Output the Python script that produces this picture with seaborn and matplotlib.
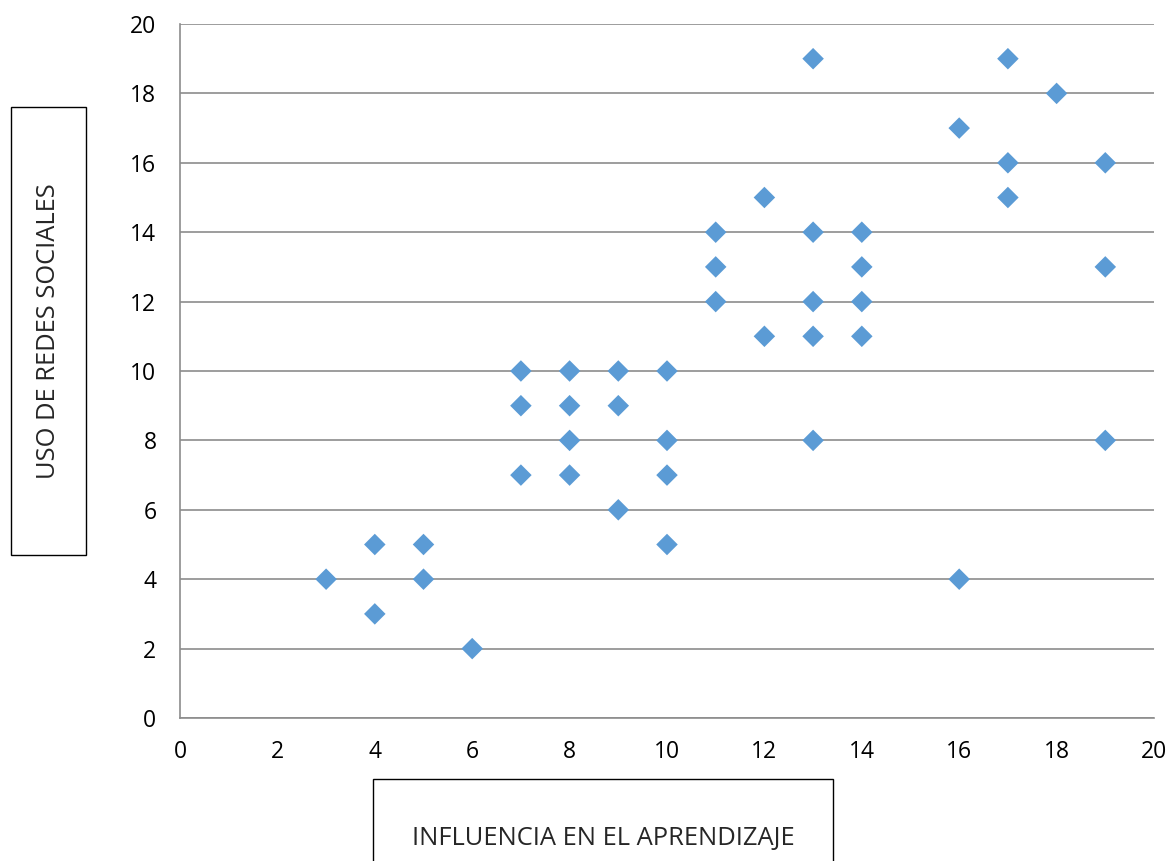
import matplotlib
matplotlib.use("Agg")
import matplotlib.pyplot as plt
import matplotlib.patches as mpatches
import seaborn as sns
import pandas as pd

# data
influencia = [3, 4, 4, 5, 5, 6,
              7, 7, 7, 8, 8, 8, 8, 9, 9, 9, 10, 10, 10, 10,
              11, 11, 11, 12, 12, 13, 13, 13, 13, 13, 14, 14, 14, 14,
              16, 16, 17, 17, 17, 18, 19, 19, 19]
uso_redes = [4, 5, 3, 5, 4, 2,
             10, 9, 7, 10, 9, 8, 7, 10, 9, 6, 10, 8, 7, 5,
             14, 13, 12, 15, 11, 19, 14, 12, 11, 8, 14, 13, 12, 11,
             17, 4, 19, 16, 15, 18, 16, 13, 8]
ticks = list(range(0, 21, 2))
x_title = "INFLUENCIA EN EL APRENDIZAJE"
y_title = "USO DE REDES SOCIALES"

df = pd.DataFrame({"x": influencia, "y": uso_redes})

sns.set_style("white")
plt.rcParams["font.family"] = ["Open Sans", "DejaVu Sans"]

W, H = 1171, 861
fig = plt.figure(figsize=(W / 100, H / 100), dpi=100)
ax = fig.add_axes([180 / W, 1 - 718 / H, (1154 - 180) / W, (718 - 24) / H])

sns.scatterplot(data=df, x="x", y="y", marker="D", s=120, color="#5B9BD5",
                edgecolor="none", ax=ax, zorder=3, clip_on=False)

grid_c = "#8c8c8c"
ax.set_xlim(0, 20)
ax.set_ylim(0, 20)
ax.set_xticks(ticks)
ax.set_yticks(ticks)
ax.set_xticklabels([str(t) for t in ticks])
ax.set_yticklabels([str(t) for t in ticks])
ax.yaxis.grid(True, color=grid_c, linewidth=1.2)
ax.xaxis.grid(False)
for side in ["top", "right"]:
    ax.spines[side].set_visible(False)
for side in ["left", "bottom"]:
    ax.spines[side].set_color(grid_c)
    ax.spines[side].set_linewidth(1.2)
ax.tick_params(axis="both", direction="out", length=5, width=1.2, color=grid_c,
               labelsize=16.5, labelcolor="black")
ax.tick_params(axis="y", pad=12)
ax.tick_params(axis="x", pad=11)
ax.set_xlabel("")
ax.set_ylabel("")

# boxed axis titles
fig.patches.append(mpatches.Rectangle((11 / W, 1 - 555 / H), 75 / W, 448 / H,
                                      transform=fig.transFigure, fill=False,
                                      edgecolor="black", linewidth=1))
fig.text(48.5 / W, 1 - 331 / H, y_title, rotation=90, ha="center", va="center",
         fontsize=18.4)
fig.patches.append(mpatches.Rectangle((373 / W, -0.01), 460 / W, (861 - 779) / H + 0.01,
                                      transform=fig.transFigure, fill=False,
                                      edgecolor="black", linewidth=1))
fig.text(603 / W, 1 - 838 / H, x_title, ha="center", va="center", fontsize=18.4)

fig.savefig("out.png", dpi=100)
